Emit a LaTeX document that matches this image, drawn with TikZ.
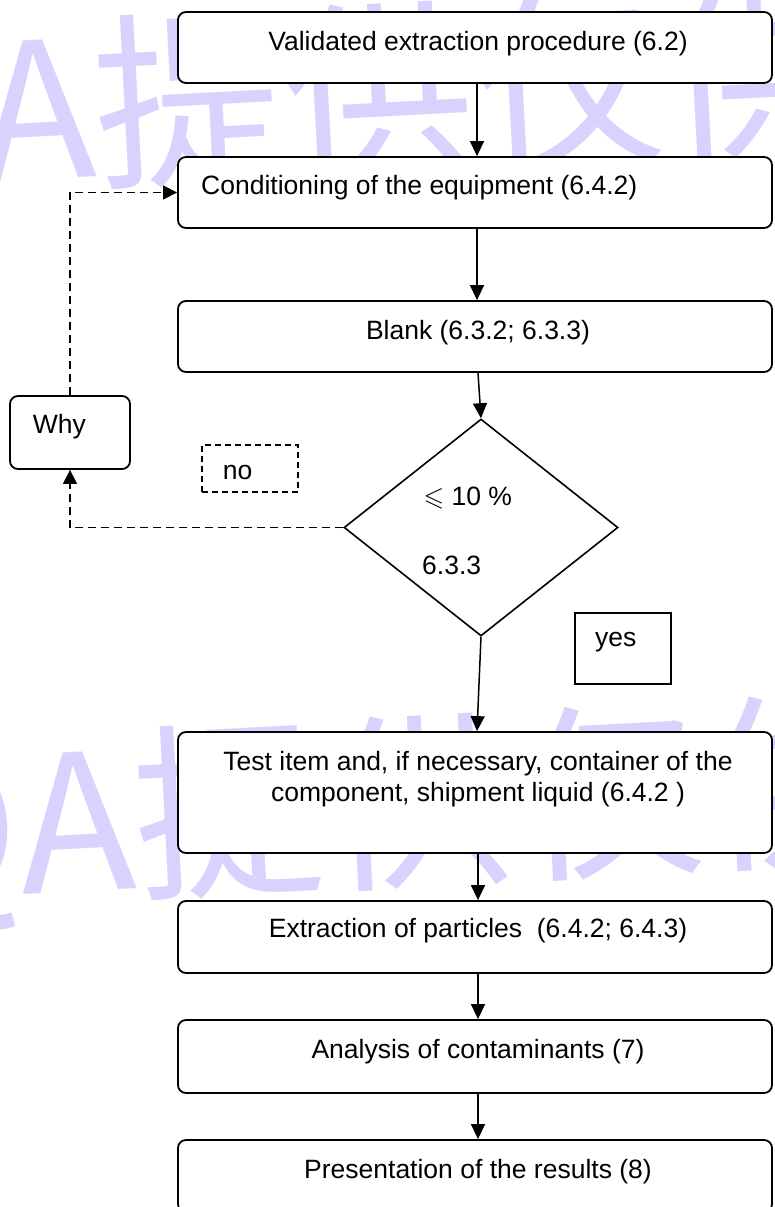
\documentclass[tikz,border=0pt]{standalone}
\usepackage{fontspec}
\usepackage{amssymb}
\setmainfont{Liberation Sans}
\newfontfamily\cjk{Noto Sans CJK SC}
\usetikzlibrary{arrows.meta,shapes.geometric}
\definecolor{wm}{RGB}{218,209,255}
\begin{document}
\begin{tikzpicture}[x=1pt,y=-1pt,
  box/.style={draw, fill=white, line width=1.8pt, rounded corners=8pt, minimum width=594pt, inner sep=0pt},
  smallbox/.style={draw, fill=white, line width=1.8pt, rounded corners=8pt, inner sep=0pt},
  lab/.style={draw, fill=white, line width=1.4pt, inner sep=0pt},
  txt/.style={inner sep=0pt, font=\fontsize{26.5pt}{31pt}\selectfont},
  arr/.style={line width=1.5pt, -{Triangle[length=15pt,width=14pt]}},
  darr/.style={line width=1.5pt, dash pattern=on 8pt off 5pt, -{Triangle[length=14pt,width=14pt]}},
  wmk/.style={inner sep=0pt, text=wm, font=\cjk\fontsize{190pt}{200pt}\selectfont, rotate=3}]
\useasboundingbox (0,0) rectangle (774,1207);
% watermark
\node[wmk, anchor=base west] (wm1) at (-18,183) {A提供仅供};
\node[wmk, anchor=base east] (wm2q) at (22,894) {Q};
\node[wmk, anchor=base west] (wm2) at (22,894) {A提供仅供};
% boxes
\node[box, minimum height=71pt] (b1) at (475,47.5) {};
\node[box, minimum height=71pt] (b2) at (475,192.5) {};
\node[box, minimum height=71pt] (b3) at (475,336.5) {};
\node[draw, fill=white, diamond, line width=1.6pt, minimum width=274pt, minimum height=217pt, inner sep=0pt, aspect=1.26] (d) at (481,527.5) {};
\node[box, minimum height=121pt] (b4) at (475,792.5) {};
\node[box, minimum height=72pt] (b5) at (475,937) {};
\node[box, minimum height=73pt] (b6) at (475,1056.5) {};
\node[box, minimum height=72pt] (b7) at (475,1176) {};
\node[smallbox, minimum width=120pt, minimum height=73pt] (why) at (70,432.5) {};
\node[lab, dash pattern=on 6pt off 4pt, minimum width=96pt, minimum height=47pt] (nob) at (250,468.5) {};
\node[lab, minimum width=96pt, minimum height=71pt] (yesb) at (623,648.5) {};
% texts
\node[txt, anchor=base] (t1) at (478,50.5) {Validated extraction procedure (6.2)};
\node[txt, anchor=base west] (t2) at (201,194.3) {Conditioning of the equipment (6.4.2)};
\node[txt, anchor=base] (t3) at (478,339) {Blank (6.3.2; 6.3.3)};
\node[txt, anchor=base] (t4a) at (478,770.7) {Test item and, if necessary, container of the};
\node[txt, anchor=base] (t4b) at (478,801.7) {component, shipment liquid (6.4.2 )};
\node[txt, anchor=base] (t5) at (478,937.3) {Extraction of particles\ \ (6.4.2; 6.4.3)};
\node[txt, anchor=base] (t6) at (478,1058) {Analysis of contaminants (7)};
\node[txt, anchor=base] (t7) at (478,1178) {Presentation of the results (8)};
\node[txt, anchor=base west] (twhy) at (32.7,433) {Why};
\node[txt, anchor=base west] (tno) at (222.7,479) {no};
\node[txt, anchor=base west] (tle) at (423.5,505) {$\leqslant$ 10 \%};
\node[txt, anchor=base west] (t633) at (422,574) {6.3.3};
\node[txt, anchor=base west] (tyes) at (595,646.7) {yes};
% connectors
\draw[arr] ([xshift=2pt]b1.south) -- ([xshift=2pt]b2.north);
\draw[arr] ([xshift=2pt]b2.south) -- ([xshift=2pt]b3.north);
\draw[arr] ([xshift=3pt]b3.south) -- (d.north);
\draw[arr] (d.south) -- ([xshift=2pt]b4.north);
\draw[arr] ([xshift=3pt]b4.south) -- ([xshift=3pt]b5.north);
\draw[arr] ([xshift=3pt]b5.south) -- ([xshift=3pt]b6.north);
\draw[arr] ([xshift=3pt]b6.south) -- ([xshift=3pt]b7.north);
\draw[darr] (d.west) -| (why.south);
\draw[darr] (why.north) |- (b2.west);
\end{tikzpicture}
\end{document}
